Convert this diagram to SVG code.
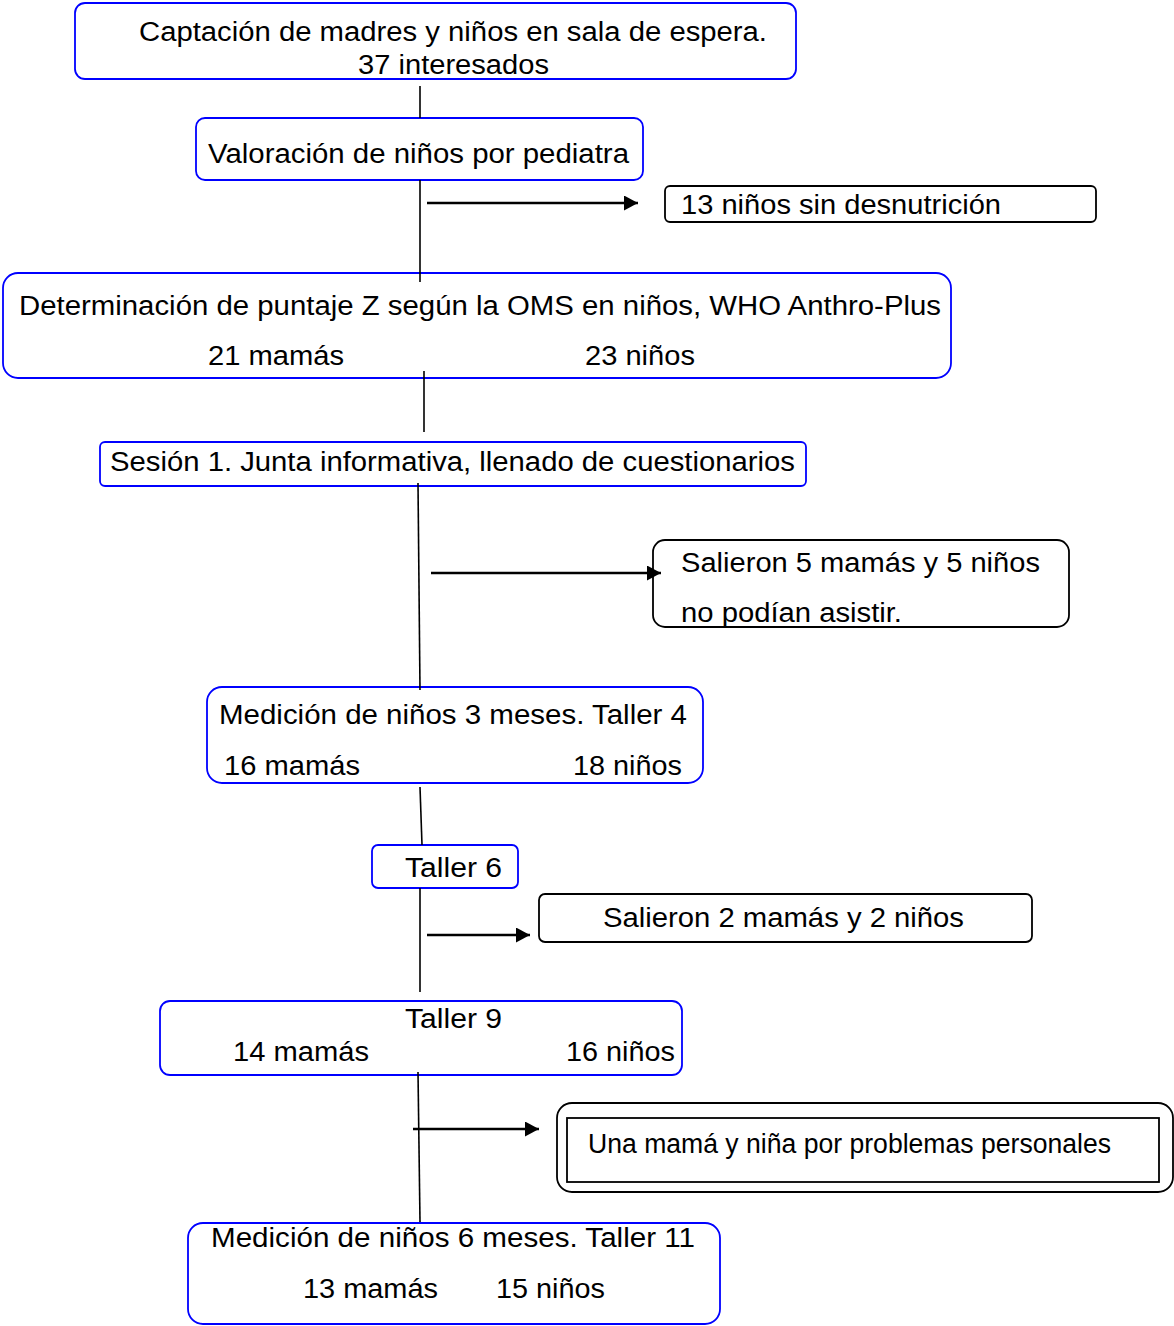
<svg xmlns="http://www.w3.org/2000/svg" width="1174" height="1326" viewBox="0 0 1174 1326">
<defs>
<style>
.b{fill:#fff;stroke:#0000ff;stroke-width:1.8}
.k{fill:#fff;stroke:#000;stroke-width:1.8}
.t{font-family:"Liberation Sans",Arial,sans-serif;font-size:27px;fill:#000}
.c{stroke:#000;stroke-width:1.6;fill:none}
.a{stroke:#000;stroke-width:2.4;fill:none;marker-end:url(#ah)}
</style>
<marker id="ah" viewBox="0 0 14 15" refX="14" refY="7.5" markerWidth="14" markerHeight="15" markerUnits="userSpaceOnUse" orient="auto">
<path d="M0,0 L14,7.5 L0,15 Z" fill="#000"/>
</marker>
</defs>
<rect width="1174" height="1326" fill="#fff"/>
<g id="n1">
<rect class="b" x="75" y="3" width="721" height="76" rx="10"/>
<text class="t" x="139" y="41" textLength="628" lengthAdjust="spacingAndGlyphs">Captación de madres y niños en sala de espera.</text>
<text class="t" x="358" y="74" textLength="191" lengthAdjust="spacingAndGlyphs">37 interesados</text>
</g>
<g id="n2">
<rect class="b" x="196" y="118" width="447" height="62" rx="9"/>
<text class="t" x="208" y="163" textLength="421" lengthAdjust="spacingAndGlyphs">Valoración de niños por pediatra</text>
</g>
<g id="n3">
<rect class="k" x="665" y="186" width="431" height="36" rx="5"/>
<text class="t" x="681" y="214" textLength="320" lengthAdjust="spacingAndGlyphs">13 niños sin desnutrición</text>
</g>
<g id="n4">
<rect class="b" x="3" y="273" width="948" height="105" rx="15"/>
<text class="t" x="19" y="315" textLength="922" lengthAdjust="spacingAndGlyphs">Determinación de puntaje Z según la OMS en niños, WHO Anthro-Plus</text>
<text class="t" x="208" y="365" textLength="136" lengthAdjust="spacingAndGlyphs">21 mamás</text>
<text class="t" x="585" y="365" textLength="110" lengthAdjust="spacingAndGlyphs">23 niños</text>
</g>
<g id="n5">
<rect class="b" x="100" y="442" width="706" height="44" rx="5"/>
<text class="t" x="110" y="471" textLength="685" lengthAdjust="spacingAndGlyphs">Sesión 1. Junta informativa, llenado de cuestionarios</text>
</g>
<g id="n6">
<rect class="k" x="653" y="540" width="416" height="87" rx="12"/>
<text class="t" x="681" y="572" textLength="359" lengthAdjust="spacingAndGlyphs">Salieron 5 mamás y 5 niños</text>
<text class="t" x="681" y="622" textLength="221" lengthAdjust="spacingAndGlyphs">no podían asistir.</text>
</g>
<g id="n7">
<rect class="b" x="207" y="687" width="496" height="96" rx="15"/>
<text class="t" x="219" y="724" textLength="468" lengthAdjust="spacingAndGlyphs">Medición de niños 3 meses. Taller 4</text>
<text class="t" x="224" y="775" textLength="136" lengthAdjust="spacingAndGlyphs">16 mamás</text>
<text class="t" x="573" y="775" textLength="109" lengthAdjust="spacingAndGlyphs">18 niños</text>
</g>
<g id="n8">
<rect class="b" x="372" y="845" width="146" height="43" rx="6"/>
<text class="t" x="405" y="877" textLength="97" lengthAdjust="spacingAndGlyphs">Taller 6</text>
</g>
<g id="n9">
<rect class="k" x="539" y="894" width="493" height="48" rx="6"/>
<text class="t" x="603" y="927" textLength="361" lengthAdjust="spacingAndGlyphs">Salieron 2 mamás y 2 niños</text>
</g>
<g id="n10">
<rect class="b" x="160" y="1001" width="522" height="74" rx="10"/>
<text class="t" x="405" y="1028" textLength="97" lengthAdjust="spacingAndGlyphs">Taller 9</text>
<text class="t" x="233" y="1061" textLength="136" lengthAdjust="spacingAndGlyphs">14 mamás</text>
<text class="t" x="566" y="1061" textLength="109" lengthAdjust="spacingAndGlyphs">16 niños</text>
</g>
<g id="n11">
<rect class="k" x="557" y="1103" width="616" height="89" rx="15"/>
<rect class="k" x="567" y="1118" width="592" height="64"/>
<text class="t" x="588" y="1153" font-size="25" textLength="523" lengthAdjust="spacingAndGlyphs">Una mamá y niña por problemas personales</text>
</g>
<g id="n12">
<rect class="b" x="188" y="1223" width="532" height="101" rx="15"/>
<text class="t" x="211" y="1247" textLength="484" lengthAdjust="spacingAndGlyphs">Medición de niños 6 meses. Taller 11</text>
<text class="t" x="303" y="1298" textLength="135" lengthAdjust="spacingAndGlyphs">13 mamás</text>
<text class="t" x="496" y="1298" textLength="109" lengthAdjust="spacingAndGlyphs">15 niños</text>
</g>
<g id="connectors">
<line class="c" x1="420" y1="86" x2="420" y2="118"/>
<line class="c" x1="420" y1="180" x2="420" y2="282"/>
<line class="a" x1="427" y1="203" x2="638" y2="203"/>
<line class="c" x1="424" y1="371" x2="424" y2="432"/>
<line class="c" x1="418" y1="483" x2="420" y2="690"/>
<line class="a" x1="431" y1="573" x2="661" y2="573"/>
<line class="c" x1="420" y1="787" x2="422" y2="845"/>
<line class="c" x1="420" y1="888" x2="420" y2="992"/>
<line class="a" x1="427" y1="935" x2="530" y2="935"/>
<line class="c" x1="418" y1="1072" x2="420" y2="1222"/>
<line class="a" x1="413" y1="1129" x2="539" y2="1129"/>
</g>
</svg>
